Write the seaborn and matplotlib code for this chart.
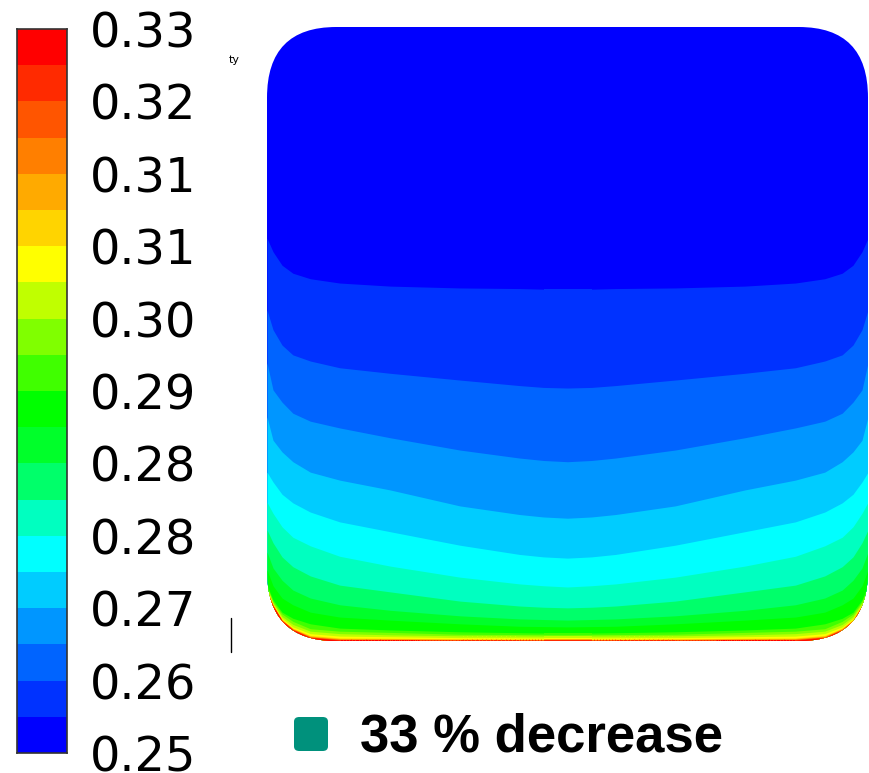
import numpy as np
import matplotlib
matplotlib.use("Agg")
import matplotlib.pyplot as plt
from matplotlib.colors import ListedColormap
from matplotlib.patches import FancyBboxPatch
from matplotlib.lines import Line2D
import seaborn as sns

# colour levels of the contour legend, bottom -> top
level_colors = ["#0000ff", "#0032ff", "#0064ff", "#0096ff", "#00ccff", "#00ffff",
                "#00ffc0", "#00ff6a", "#00ff2a", "#00ff00", "#40ff00", "#80ff00",
                "#c0ff00", "#ffff00", "#ffd400", "#ffaa00", "#ff7f00", "#ff5500",
                "#ff2a00", "#ff0000"]
level_min, level_max = 0.2515, 0.3305
tick_labels = ["0.25", "0.26", "0.27", "0.28", "0.28", "0.29",
               "0.30", "0.31", "0.31", "0.32", "0.33"]

# band edges = height above the bottom wall (fraction of section height),
# read at stations across the left half; the section is symmetric
x_stations = [0.0, 0.010, 0.025, 0.043, 0.072, 0.121, 0.205, 0.321, 0.42, 0.46, 0.5]
upper_edges = [
    [0.656, 0.634, 0.612, 0.599, 0.590, 0.583, 0.578, 0.575, 0.574, 0.573, 0.573],
    [0.539, 0.507, 0.482, 0.466, 0.456, 0.445, 0.436, 0.425, 0.416, 0.413, 0.412],
    [0.453, 0.409, 0.389, 0.371, 0.358, 0.347, 0.331, 0.311, 0.298, 0.294, 0.292],
    [0.365, 0.327, 0.308, 0.292, 0.275, 0.262, 0.246, 0.220, 0.206, 0.202, 0.200],
    [0.275, 0.259, 0.239, 0.225, 0.210, 0.194, 0.178, 0.156, 0.141, 0.137, 0.135],
    [0.226, 0.208, 0.186, 0.169, 0.155, 0.138, 0.122, 0.104, 0.093, 0.090, 0.088],
    [0.181, 0.160, 0.137, 0.121, 0.106, 0.091, 0.080, 0.065, 0.057, 0.055, 0.054],
    [0.145, 0.119, 0.099, 0.083, 0.070, 0.059, 0.050, 0.041, 0.036, 0.035, 0.034],
    [0.116, 0.090, 0.070, 0.059, 0.047, 0.039, 0.034, 0.028, 0.024, 0.0235, 0.023],
    [0.091, 0.067, 0.047, 0.037, 0.028, 0.021, 0.018, 0.015, 0.0135, 0.013, 0.013],
]
# thin layers hugging the bottom wall
wall_edges = [
    [0.089, 0.064, 0.044, 0.032, 0.020, 0.016, 0.014, 0.011, 0.0105, 0.0102, 0.010],
    [0.087, 0.062, 0.040, 0.027, 0.016, 0.012, 0.010, 0.0085, 0.0082, 0.008, 0.008],
    [0.085, 0.060, 0.037, 0.023, 0.012, 0.008, 0.007, 0.0055, 0.0052, 0.005, 0.005],
    [0.084, 0.059, 0.035, 0.021, 0.009, 0.005, 0.0045, 0.0035, 0.0032, 0.003, 0.003],
    [0.083, 0.0585, 0.0345, 0.020, 0.008, 0.004, 0.0036, 0.0029, 0.0026, 0.0025, 0.0025],
    [0.082, 0.058, 0.034, 0.0195, 0.007, 0.0032, 0.0029, 0.0023, 0.0021, 0.002, 0.002],
    [0.081, 0.0577, 0.0335, 0.019, 0.0065, 0.0025, 0.0022, 0.0018, 0.0016, 0.0015, 0.0015],
    [0.080, 0.0574, 0.033, 0.0185, 0.006, 0.0018, 0.0015, 0.0012, 0.0011, 0.001, 0.001],
    [0.079, 0.0572, 0.0328, 0.018, 0.0055, 0.0010, 0.0009, 0.0007, 0.0006, 0.0006, 0.0006],
]

legend_label = "33 % decrease"
legend_color = "#00917c"

sns.set_style("white")
plt.rcParams["font.family"] = ["DejaVu Sans"]
plt.rcParams["text.color"] = "black"
plt.rcParams["ytick.color"] = "black"

W, H = 870, 773
fig = plt.figure(figsize=(W / 100, H / 100), dpi=100)

# ---- contour section ----
ax = fig.add_axes([267 / W, 132 / H, 601 / W, 614 / H])
ax.set_xlim(0, 1)
ax.set_ylim(0, 1)
ax.axis("off")

# rounded duct section used as clip outline
section = FancyBboxPatch((0, 0), 1, 1, boxstyle="round,pad=0,rounding_size=0.115",
                         facecolor="none", edgecolor="none")
ax.add_patch(section)

xs_half = np.array(x_stations)
xs = np.r_[xs_half, 1 - xs_half[::-1][1:]]


def mirror(row):
    row = np.array(row)
    return np.r_[row, row[::-1][1:]]


# upper limit of each colour band: blue (lowest value) at the top,
# red (highest) along the bottom wall; later fills sit over earlier ones
band_tops = [np.full(len(xs), 1.05)] + [mirror(r) for r in upper_edges + wall_edges]
for c, top in zip(level_colors, band_tops):
    poly = ax.fill_between(xs, -0.05, top, color=c, lw=0)
    poly.set_clip_path(section)

# ---- colour legend ----
ax_cb = fig.add_axes([17 / W, 20 / H, 50 / W, 724 / H])
levels = np.linspace(level_min, level_max, len(level_colors) + 1)
mids = (levels[:-1] + levels[1:]) / 2
sns.heatmap(mids[::-1].reshape(-1, 1), ax=ax_cb, cmap=ListedColormap(level_colors),
            vmin=level_min, vmax=level_max, cbar=False,
            xticklabels=False, yticklabels=False)
for s in ax_cb.spines.values():
    s.set_visible(True)
    s.set_color("#333333")
    s.set_linewidth(1.2)
n = len(level_colors)
ax_cb.yaxis.tick_right()
ax_cb.set_yticks([n - 2 * k for k in range(len(tick_labels))])
ax_cb.set_yticklabels(tick_labels, fontsize=34.5, color="black")
ax_cb.tick_params(axis="y", length=0, pad=16.5, labelright=True, labelleft=False)

# stray bits of the original screenshot
fig.text(229 / W, 1 - 63 / H, "ty", fontsize=8, va="baseline")
fig.add_artist(Line2D([231 / W, 231 / W], [1 - 618 / H, 1 - 652 / H],
                      color="black", lw=1, transform=fig.transFigure))

# ---- legend entry ----
fig.add_artist(FancyBboxPatch((294 / W, 1 - 751 / H), 34 / W, 34 / H,
                              boxstyle="round,pad=0,rounding_size=0.006",
                              facecolor=legend_color, edgecolor="none",
                              transform=fig.transFigure))
fig.text(360 / W, 1 - 752 / H, legend_label, fontsize=38, fontweight="bold",
         family=["Liberation Sans", "DejaVu Sans"], va="baseline", color="black")

fig.savefig("out.png", dpi=100, facecolor="white")
